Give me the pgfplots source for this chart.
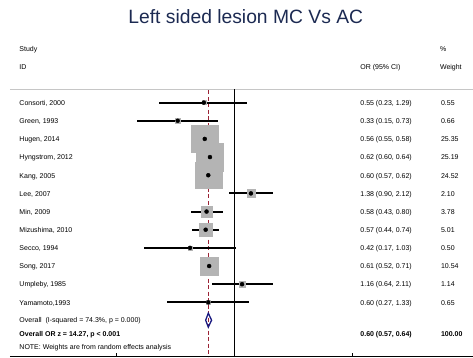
\documentclass[border=0pt]{standalone}
\usepackage{pgfplots}
\pgfplotsset{compat=1.18}
\usepackage{pgfplotstable}
\usepackage{fontspec}
\setmainfont{Liberation Sans}
\definecolor{titleblue}{RGB}{28,42,82}
\definecolor{boxgray}{RGB}{180,180,180}
\definecolor{refred}{RGB}{155,35,53}
\definecolor{dianavy}{RGB}{26,26,128}
\newcommand\sm{\fontsize{7}{8.4}\selectfont}

\pgfplotstableread{
y      or   lo   hi   w
102.70 0.55 0.23 1.29 0.55
120.88 0.33 0.15 0.73 0.66
139.06 0.56 0.55 0.58 25.35
157.24 0.62 0.60 0.64 25.19
175.42 0.60 0.57 0.62 24.52
193.60 1.38 0.90 2.12 2.10
211.78 0.58 0.43 0.80 3.78
229.96 0.57 0.44 0.74 5.01
248.14 0.42 0.17 1.03 0.50
266.32 0.61 0.52 0.71 10.54
284.50 1.16 0.64 2.11 1.14
302.68 0.60 0.27 1.33 0.65
}\studies

\begin{document}
\begin{tikzpicture}
\begin{axis}[
  scale only axis, width=473pt, height=358pt,
  xmode=log, xmin=0.01026, xmax=104.6,
  ymin=0, ymax=358, y dir=reverse,
  hide axis, clip=false,
  every node/.style={inner sep=0pt},
]
\path (rel axis cs:0,0) rectangle (rel axis cs:1,1);
% separator and bottom axis
\addplot[gray!45, line width=0.8pt, mark=none] coordinates {(0.01247,89.3) (104.6,89.3)};
\addplot[black, line width=1pt, mark=none] coordinates {(0.01247,357.2) (104.6,357.2)};
\addplot[black, line width=0.8pt, mark=none] coordinates {(0.1,357) (0.1,353.5)};
\addplot[black, line width=0.8pt, mark=none] coordinates {(10,357) (10,353.5)};
% null line and overall line
\addplot[black, line width=0.9pt, mark=none] coordinates {(1,89.5) (1,357)};
\addplot[refred, line width=0.9pt, mark=none, dash pattern=on 4pt off 2.5pt] coordinates {(0.6,90.5) (0.6,357)};
% weight boxes
\addplot[scatter, only marks, mark=square*,
  scatter/use mapped color={draw=boxgray, fill=boxgray},
  visualization depends on={2.72*sqrt(\thisrow{w}) \as \msz},
  scatter/@pre marker code/.append style={/tikz/mark size=\msz}]
  table[x=or, y=y] {\studies};
% confidence intervals
\addplot[only marks, mark=none, black,
  error bars/.cd, x dir=both, x explicit, error mark=none,
  error bar style={line width=1.95pt, black}]
  table[x=or, y=y, x error plus expr=\thisrow{hi}-\thisrow{or}, x error minus expr=\thisrow{or}-\thisrow{lo}] {\studies};
% point estimates
\addplot[only marks, mark=*, mark size=1.05pt, black] table[x=or, y=y] {\studies};
% overall diamond
\addplot[dianavy, line width=1.3pt, mark=none, line join=miter] coordinates {(0.57,320.5) (0.60,313.5) (0.64,320.5) (0.60,327.5) (0.57,320.5) (0.60,313.5)};

% texts
\node[anchor=base, font=\fontsize{19.3}{22}\selectfont, text=titleblue] at (axis cs:1.247,23.6) {Left sided lesion MC Vs AC};
\node[anchor=base west, font=\sm] at (axis cs:0.01401,51.8) {Study};
\node[anchor=base west, font=\sm] at (axis cs:0.01401,69.2) {ID};
\node[anchor=base west, font=\sm] at (axis cs:10.94,69.2) {OR (95\% CI)};
\node[anchor=base west, font=\sm] at (axis cs:51.8,51.8) {\%};
\node[anchor=base west, font=\sm] at (axis cs:51.8,69.2) {Weight};

\node[anchor=base west, font=\sm] at (axis cs:0.01401,105.5) {Consorti, 2000};
\node[anchor=base west, font=\sm] at (axis cs:0.01401,123.7) {Green, 1993};
\node[anchor=base west, font=\sm] at (axis cs:0.01401,141.9) {Hugen, 2014};
\node[anchor=base west, font=\sm] at (axis cs:0.01401,160.1) {Hyngstrom, 2012};
\node[anchor=base west, font=\sm] at (axis cs:0.01401,178.2) {Kang, 2005};
\node[anchor=base west, font=\sm] at (axis cs:0.01401,196.4) {Lee, 2007};
\node[anchor=base west, font=\sm] at (axis cs:0.01401,214.6) {Min, 2009};
\node[anchor=base west, font=\sm] at (axis cs:0.01401,232.8) {Mizushima, 2010};
\node[anchor=base west, font=\sm] at (axis cs:0.01401,250.9) {Secco, 1994};
\node[anchor=base west, font=\sm] at (axis cs:0.01401,269.1) {Song, 2017};
\node[anchor=base west, font=\sm] at (axis cs:0.01401,287.3) {Umpleby, 1985};
\node[anchor=base west, font=\sm] at (axis cs:0.01401,305.5) {Yamamoto,1993};
\node[anchor=base west, font=\sm] at (axis cs:0.01401,323.0) {Overall\ \ (I-squared = 74.3\%, p = 0.000)};
\node[anchor=base west, font=\sm\bfseries] at (axis cs:0.01401,336.6) {Overall OR z = 14.27, p < 0.001};
\node[anchor=base west, font=\sm] at (axis cs:0.01401,350.3) {NOTE: Weights are from random effects analysis};

\node[anchor=base west, font=\sm] at (axis cs:10.94,105.5) {0.55 (0.23, 1.29)};
\node[anchor=base west, font=\sm] at (axis cs:10.94,123.7) {0.33 (0.15, 0.73)};
\node[anchor=base west, font=\sm] at (axis cs:10.94,141.9) {0.56 (0.55, 0.58)};
\node[anchor=base west, font=\sm] at (axis cs:10.94,160.1) {0.62 (0.60, 0.64)};
\node[anchor=base west, font=\sm] at (axis cs:10.94,178.2) {0.60 (0.57, 0.62)};
\node[anchor=base west, font=\sm] at (axis cs:10.94,196.4) {1.38 (0.90, 2.12)};
\node[anchor=base west, font=\sm] at (axis cs:10.94,214.6) {0.58 (0.43, 0.80)};
\node[anchor=base west, font=\sm] at (axis cs:10.94,232.8) {0.57 (0.44, 0.74)};
\node[anchor=base west, font=\sm] at (axis cs:10.94,250.9) {0.42 (0.17, 1.03)};
\node[anchor=base west, font=\sm] at (axis cs:10.94,269.1) {0.61 (0.52, 0.71)};
\node[anchor=base west, font=\sm] at (axis cs:10.94,287.3) {1.16 (0.64, 2.11)};
\node[anchor=base west, font=\sm] at (axis cs:10.94,305.5) {0.60 (0.27, 1.33)};
\node[anchor=base west, font=\sm\bfseries] at (axis cs:10.94,336.6) {0.60 (0.57, 0.64)};

\node[anchor=base west, font=\sm] at (axis cs:52.83,105.5) {0.55};
\node[anchor=base west, font=\sm] at (axis cs:52.83,123.7) {0.66};
\node[anchor=base west, font=\sm] at (axis cs:52.83,141.9) {25.35};
\node[anchor=base west, font=\sm] at (axis cs:52.83,160.1) {25.19};
\node[anchor=base west, font=\sm] at (axis cs:52.83,178.2) {24.52};
\node[anchor=base west, font=\sm] at (axis cs:52.83,196.4) {2.10};
\node[anchor=base west, font=\sm] at (axis cs:52.83,214.6) {3.78};
\node[anchor=base west, font=\sm] at (axis cs:52.83,232.8) {5.01};
\node[anchor=base west, font=\sm] at (axis cs:52.83,250.9) {0.50};
\node[anchor=base west, font=\sm] at (axis cs:52.83,269.1) {10.54};
\node[anchor=base west, font=\sm] at (axis cs:52.83,287.3) {1.14};
\node[anchor=base west, font=\sm] at (axis cs:52.83,305.5) {0.65};
\node[anchor=base west, font=\sm\bfseries] at (axis cs:52.83,336.6) {100.00};
\end{axis}
\end{tikzpicture}
\end{document}
